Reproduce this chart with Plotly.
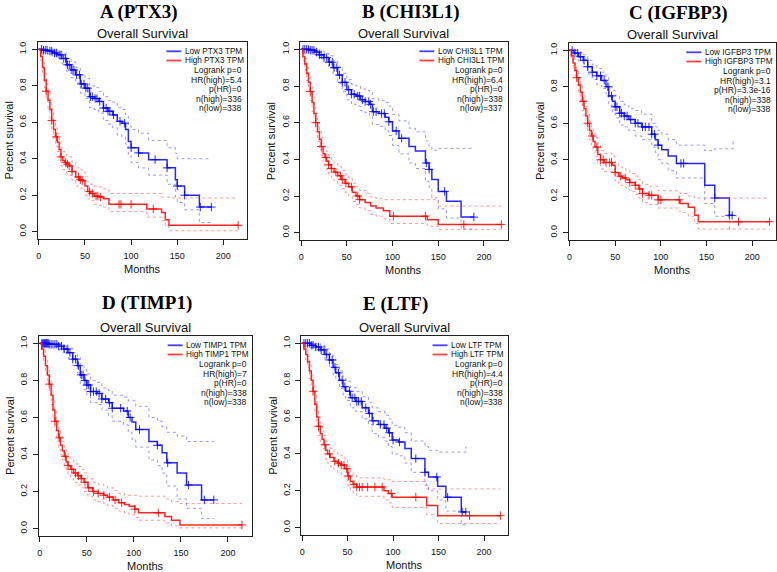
import numpy as np
import plotly.graph_objects as go

# ----------------------------- data -----------------------------
panel_letters = ["A", "B", "C", "D", "E"]
genes = ["PTX3", "CHI3L1", "IGFBP3", "TIMP1", "LTF"]
logrank_p = ["0", "0", "0", "0", "0"]
hr_high = ["5.4", "6.4", "3.1", "7", "4.4"]
p_hr = ["0", "0", "3.3e-16", "0", "0"]
n_high = [336, 338, 338, 338, 338]
n_low = [338, 337, 338, 338, 338]
x_ticks = [0, 50, 100, 150, 200]
y_ticks = [0.0, 0.2, 0.4, 0.6, 0.8, 1.0]

# Panel A (PTX3)
a_low_t = [0, 5, 10, 15, 20, 25, 30, 35, 40, 45, 50, 55, 60, 65, 70, 75, 80, 85, 90, 94, 97, 100, 108, 119, 139, 148, 150, 158, 174, 187]
a_low_s = [1.0, 0.995, 0.99, 0.98, 0.97, 0.95, 0.915, 0.887, 0.86, 0.81, 0.787, 0.74, 0.73, 0.714, 0.678, 0.66, 0.64, 0.605, 0.595, 0.56, 0.495, 0.46, 0.432, 0.395, 0.35, 0.285, 0.25, 0.2, 0.135, 0.135]
a_low_up = [1.0, 1.0, 1.0, 1.0, 0.99, 0.975, 0.95, 0.93, 0.9, 0.86, 0.84, 0.8, 0.79, 0.77, 0.74, 0.72, 0.71, 0.68, 0.67, 0.64, 0.58, 0.56, 0.54, 0.5, 0.46, 0.43, 0.4, 0.4, 0.4, 0.4]
a_low_lo = [1.0, 0.985, 0.975, 0.96, 0.945, 0.92, 0.88, 0.845, 0.815, 0.76, 0.73, 0.68, 0.67, 0.65, 0.61, 0.59, 0.57, 0.53, 0.52, 0.48, 0.42, 0.38, 0.35, 0.31, 0.26, 0.19, 0.16, 0.12, 0.05, 0.05]
a_low_cens = [3, 5, 7, 9, 12, 14, 17, 19, 22, 24, 27, 29, 31, 33, 36, 38, 41, 44, 46, 49, 51, 53, 56, 58, 61, 63, 66, 70, 73, 75, 77, 81, 88, 93, 100, 108, 126, 139, 150, 158, 175, 187]
a_high_t = [0, 2, 4, 6, 8, 10, 12, 14, 16, 18, 20, 22, 24, 26, 28, 30, 33, 36, 40, 44, 47, 50, 53, 56, 60, 65, 70, 76, 117, 133, 137, 141, 216]
a_high_s = [1.0, 0.96, 0.9, 0.83, 0.77, 0.72, 0.67, 0.61, 0.56, 0.52, 0.49, 0.45, 0.41, 0.39, 0.38, 0.37, 0.36, 0.33, 0.3, 0.285, 0.28, 0.25, 0.22, 0.21, 0.195, 0.19, 0.18, 0.15, 0.125, 0.105, 0.065, 0.035, 0.035]
a_high_up = [1.0, 0.98, 0.93, 0.87, 0.81, 0.77, 0.72, 0.66, 0.61, 0.57, 0.54, 0.5, 0.46, 0.44, 0.43, 0.42, 0.41, 0.38, 0.35, 0.34, 0.33, 0.3, 0.27, 0.26, 0.25, 0.245, 0.235, 0.21, 0.21, 0.19, 0.19, 0.185, 0.185]
a_high_lo = [1.0, 0.94, 0.87, 0.79, 0.72, 0.67, 0.62, 0.56, 0.51, 0.47, 0.44, 0.4, 0.36, 0.34, 0.33, 0.32, 0.31, 0.28, 0.25, 0.24, 0.23, 0.2, 0.18, 0.17, 0.15, 0.145, 0.135, 0.11, 0.08, 0.06, 0.03, 0.005, 0.005]
a_high_cens = [8, 14, 19, 24, 29, 31, 33, 36, 43, 45, 47, 55, 58, 62, 64, 67, 87, 89, 100, 124, 216]

# Panel B (CHI3L1)
b_low_t = [0, 10, 15, 20, 25, 30, 35, 40, 45, 50, 55, 60, 65, 70, 75, 78, 85, 92, 96, 100, 107, 118, 125, 136, 140, 143, 150, 159, 175, 189]
b_low_s = [1.0, 0.995, 0.985, 0.97, 0.955, 0.93, 0.9, 0.86, 0.82, 0.78, 0.755, 0.745, 0.725, 0.715, 0.7, 0.66, 0.65, 0.63, 0.605, 0.555, 0.515, 0.47, 0.445, 0.38, 0.345, 0.29, 0.225, 0.172, 0.085, 0.085]
b_low_up = [1.0, 1.0, 1.0, 0.99, 0.98, 0.965, 0.94, 0.905, 0.87, 0.835, 0.81, 0.8, 0.785, 0.775, 0.765, 0.73, 0.72, 0.71, 0.69, 0.645, 0.61, 0.57, 0.55, 0.5, 0.47, 0.45, 0.46, 0.46, 0.46, 0.46]
b_low_lo = [1.0, 0.985, 0.97, 0.95, 0.93, 0.9, 0.86, 0.815, 0.77, 0.725, 0.7, 0.69, 0.665, 0.655, 0.635, 0.59, 0.58, 0.555, 0.53, 0.475, 0.43, 0.38, 0.35, 0.28, 0.245, 0.19, 0.13, 0.08, 0.02, 0.02]
b_low_cens = [2, 4, 6, 8, 10, 12, 14, 17, 20, 22, 25, 28, 31, 34, 36, 39, 42, 45, 48, 52, 55, 58, 62, 64, 67, 70, 74, 76, 79, 82, 88, 91, 96, 104, 110, 137, 140, 157, 189]
b_high_t = [0, 2, 4, 6, 8, 10, 12, 14, 16, 18, 20, 22, 24, 26, 28, 30, 33, 36, 40, 44, 48, 52, 56, 60, 64, 70, 76, 82, 90, 97, 138, 150, 219]
b_high_s = [1.0, 0.96, 0.92, 0.87, 0.82, 0.77, 0.71, 0.65, 0.6, 0.55, 0.51, 0.47, 0.43, 0.41, 0.39, 0.37, 0.35, 0.33, 0.31, 0.29, 0.27, 0.25, 0.22, 0.2, 0.18, 0.165, 0.145, 0.135, 0.12, 0.09, 0.07, 0.045, 0.045]
b_high_up = [1.0, 0.98, 0.95, 0.9, 0.86, 0.81, 0.75, 0.7, 0.65, 0.6, 0.56, 0.52, 0.48, 0.46, 0.44, 0.42, 0.4, 0.38, 0.36, 0.34, 0.32, 0.3, 0.27, 0.25, 0.23, 0.215, 0.195, 0.185, 0.18, 0.18, 0.18, 0.145, 0.145]
b_high_lo = [1.0, 0.94, 0.89, 0.83, 0.78, 0.72, 0.66, 0.6, 0.55, 0.5, 0.46, 0.42, 0.38, 0.36, 0.34, 0.32, 0.3, 0.28, 0.26, 0.24, 0.22, 0.2, 0.17, 0.155, 0.135, 0.12, 0.1, 0.09, 0.075, 0.05, 0.035, 0.018, 0.018]
b_high_cens = [10, 16, 22, 27, 30, 33, 38, 43, 45, 49, 55, 62, 64, 101, 136, 178, 219]

# Panel C (IGFBP3)
c_low_t = [0, 5, 10, 15, 20, 25, 30, 35, 40, 43, 47, 50, 55, 60, 65, 72, 79, 90, 94, 97, 101, 108, 117, 148, 159, 175, 179]
c_low_s = [1.0, 0.985, 0.965, 0.945, 0.91, 0.88, 0.86, 0.835, 0.8, 0.75, 0.72, 0.69, 0.655, 0.64, 0.62, 0.6, 0.58, 0.54, 0.51, 0.48, 0.455, 0.42, 0.38, 0.26, 0.19, 0.095, 0.095]
c_low_up = [1.0, 1.0, 0.99, 0.975, 0.945, 0.92, 0.9, 0.88, 0.85, 0.8, 0.78, 0.75, 0.72, 0.7, 0.68, 0.67, 0.65, 0.6, 0.58, 0.56, 0.54, 0.51, 0.48, 0.45, 0.46, 0.46, 0.5]
c_low_lo = [1.0, 0.97, 0.94, 0.91, 0.87, 0.84, 0.81, 0.79, 0.75, 0.7, 0.66, 0.63, 0.59, 0.58, 0.56, 0.53, 0.51, 0.47, 0.44, 0.4, 0.38, 0.34, 0.3, 0.16, 0.09, 0.02, 0.02]
c_low_cens = [3, 6, 9, 12, 16, 20, 25, 30, 34, 38, 42, 46, 50, 52, 55, 57, 60, 63, 67, 72, 75, 80, 83, 87, 90, 93, 97, 122, 125, 159, 175, 178]
c_high_t = [0, 2, 4, 6, 8, 10, 12, 14, 16, 18, 20, 22, 24, 26, 28, 31, 34, 38, 42, 47, 50, 54, 58, 62, 66, 72, 76, 80, 87, 97, 121, 130, 137, 141, 219]
c_high_s = [1.0, 0.97, 0.93, 0.89, 0.85, 0.81, 0.77, 0.72, 0.68, 0.64, 0.6, 0.56, 0.53, 0.5, 0.47, 0.43, 0.4, 0.385, 0.385, 0.37, 0.33, 0.31, 0.3, 0.29, 0.275, 0.26, 0.24, 0.215, 0.205, 0.18, 0.16, 0.14, 0.095, 0.06, 0.06]
c_high_up = [1.0, 0.99, 0.96, 0.92, 0.89, 0.85, 0.81, 0.77, 0.73, 0.69, 0.65, 0.61, 0.58, 0.55, 0.52, 0.48, 0.45, 0.435, 0.435, 0.42, 0.38, 0.36, 0.35, 0.34, 0.325, 0.31, 0.29, 0.265, 0.255, 0.23, 0.215, 0.2, 0.19, 0.19, 0.19]
c_high_lo = [1.0, 0.95, 0.9, 0.86, 0.81, 0.77, 0.72, 0.67, 0.63, 0.59, 0.55, 0.51, 0.48, 0.45, 0.42, 0.38, 0.35, 0.335, 0.335, 0.32, 0.28, 0.26, 0.25, 0.24, 0.225, 0.21, 0.19, 0.165, 0.155, 0.135, 0.11, 0.09, 0.05, 0.02, 0.02]
c_high_cens = [8, 15, 20, 25, 30, 34, 37, 40, 44, 46, 50, 56, 61, 66, 72, 77, 80, 87, 90, 97, 100, 120, 185, 219]

# Panel D (TIMP1)
d_low_t = [0, 10, 20, 25, 30, 35, 40, 43, 47, 50, 54, 61, 66, 73, 77, 89, 94, 98, 102, 116, 125, 130, 135, 146, 156, 172, 185]
d_low_s = [1.0, 0.995, 0.985, 0.97, 0.95, 0.915, 0.88, 0.83, 0.8, 0.775, 0.74, 0.73, 0.7, 0.68, 0.65, 0.635, 0.6, 0.575, 0.535, 0.47, 0.45, 0.41, 0.355, 0.3, 0.235, 0.155, 0.155]
d_low_up = [1.0, 1.0, 1.0, 0.99, 0.975, 0.95, 0.925, 0.88, 0.86, 0.835, 0.8, 0.79, 0.76, 0.745, 0.72, 0.71, 0.69, 0.69, 0.66, 0.6, 0.58, 0.55, 0.52, 0.5, 0.47, 0.47, 0.47]
d_low_lo = [1.0, 0.985, 0.965, 0.945, 0.92, 0.88, 0.84, 0.78, 0.75, 0.72, 0.68, 0.67, 0.64, 0.61, 0.58, 0.56, 0.52, 0.48, 0.44, 0.37, 0.34, 0.3, 0.23, 0.16, 0.11, 0.054, 0.054]
d_low_cens = [2, 3, 4, 5, 6, 7, 8, 9, 10, 12, 14, 16, 18, 20, 23, 26, 29, 32, 35, 38, 41, 44, 46, 48, 50, 52, 54, 57, 60, 63, 66, 70, 74, 77, 86, 93, 96, 106, 125, 136, 158, 175, 185]
d_high_t = [0, 2, 4, 6, 8, 10, 12, 14, 16, 18, 20, 22, 24, 26, 28, 30, 33, 36, 40, 44, 47, 51, 56, 62, 68, 72, 78, 84, 90, 95, 101, 105, 133, 140, 149, 215]
d_high_s = [1.0, 0.97, 0.93, 0.88, 0.83, 0.78, 0.72, 0.64, 0.58, 0.53, 0.49, 0.45, 0.42, 0.39, 0.36, 0.34, 0.32, 0.3, 0.285, 0.27, 0.25, 0.22, 0.2, 0.19, 0.18, 0.17, 0.155, 0.14, 0.13, 0.12, 0.105, 0.085, 0.065, 0.045, 0.02, 0.02]
d_high_up = [1.0, 0.99, 0.96, 0.92, 0.87, 0.82, 0.77, 0.69, 0.63, 0.58, 0.54, 0.5, 0.47, 0.44, 0.41, 0.39, 0.37, 0.35, 0.335, 0.32, 0.3, 0.27, 0.25, 0.24, 0.23, 0.22, 0.205, 0.19, 0.18, 0.18, 0.18, 0.175, 0.16, 0.145, 0.135, 0.135]
d_high_lo = [1.0, 0.95, 0.9, 0.84, 0.79, 0.74, 0.67, 0.59, 0.53, 0.48, 0.44, 0.4, 0.37, 0.34, 0.31, 0.29, 0.27, 0.25, 0.235, 0.22, 0.2, 0.175, 0.155, 0.145, 0.135, 0.125, 0.11, 0.095, 0.085, 0.075, 0.06, 0.045, 0.03, 0.015, 0.004, 0.004]
d_high_cens = [10, 16, 21, 27, 30, 34, 38, 41, 44, 48, 52, 57, 62, 68, 74, 80, 87, 101, 126, 215]

# Panel E (LTF)
e_low_t = [0, 10, 15, 20, 25, 30, 34, 37, 41, 45, 48, 53, 59, 66, 73, 77, 84, 91, 95, 99, 106, 113, 120, 135, 139, 149, 158, 175, 180]
e_low_s = [1.0, 0.99, 0.98, 0.965, 0.94, 0.91, 0.87, 0.84, 0.8, 0.765, 0.74, 0.705, 0.685, 0.65, 0.62, 0.58, 0.56, 0.54, 0.515, 0.475, 0.465, 0.43, 0.375, 0.3, 0.275, 0.225, 0.165, 0.085, 0.085]
e_low_up = [1.0, 1.0, 1.0, 0.99, 0.97, 0.945, 0.91, 0.885, 0.85, 0.815, 0.795, 0.76, 0.74, 0.71, 0.68, 0.65, 0.63, 0.61, 0.59, 0.555, 0.545, 0.515, 0.47, 0.44, 0.42, 0.41, 0.41, 0.41, 0.44]
e_low_lo = [1.0, 0.98, 0.96, 0.94, 0.91, 0.875, 0.83, 0.8, 0.755, 0.72, 0.69, 0.65, 0.63, 0.59, 0.56, 0.51, 0.49, 0.47, 0.44, 0.4, 0.39, 0.35, 0.3, 0.23, 0.2, 0.15, 0.09, 0.015, 0.015]
e_low_cens = [2, 4, 6, 8, 10, 12, 15, 18, 21, 24, 27, 30, 33, 36, 40, 44, 47, 52, 55, 58, 60, 62, 65, 70, 74, 78, 86, 90, 93, 96, 100, 107, 125, 135, 148, 160, 176, 180]
e_high_t = [0, 2, 4, 6, 8, 10, 12, 14, 16, 18, 20, 22, 24, 26, 28, 31, 35, 39, 43, 47, 50, 53, 56, 60, 90, 95, 99, 137, 149, 218]
e_high_s = [1.0, 0.97, 0.94, 0.9, 0.85, 0.8, 0.74, 0.67, 0.6, 0.55, 0.51, 0.48, 0.45, 0.42, 0.4, 0.38, 0.36, 0.35, 0.34, 0.32, 0.28, 0.25, 0.235, 0.22, 0.2, 0.185, 0.165, 0.12, 0.065, 0.065]
e_high_up = [1.0, 0.99, 0.97, 0.93, 0.89, 0.84, 0.78, 0.72, 0.65, 0.6, 0.56, 0.53, 0.5, 0.47, 0.45, 0.43, 0.41, 0.4, 0.39, 0.37, 0.33, 0.3, 0.285, 0.27, 0.26, 0.26, 0.25, 0.21, 0.21, 0.21]
e_high_lo = [1.0, 0.95, 0.91, 0.87, 0.81, 0.76, 0.7, 0.62, 0.55, 0.5, 0.46, 0.43, 0.4, 0.37, 0.35, 0.33, 0.31, 0.3, 0.29, 0.27, 0.23, 0.2, 0.185, 0.17, 0.15, 0.135, 0.11, 0.07, 0.022, 0.022]
e_high_cens = [12, 18, 25, 30, 36, 40, 43, 46, 49, 51, 57, 60, 63, 66, 72, 80, 88, 98, 125, 184, 218]

low_curves = [
    (a_low_t, a_low_s, a_low_up, a_low_lo, a_low_cens),
    (b_low_t, b_low_s, b_low_up, b_low_lo, b_low_cens),
    (c_low_t, c_low_s, c_low_up, c_low_lo, c_low_cens),
    (d_low_t, d_low_s, d_low_up, d_low_lo, d_low_cens),
    (e_low_t, e_low_s, e_low_up, e_low_lo, e_low_cens),
]
high_curves = [
    (a_high_t, a_high_s, a_high_up, a_high_lo, a_high_cens),
    (b_high_t, b_high_s, b_high_up, b_high_lo, b_high_cens),
    (c_high_t, c_high_s, c_high_up, c_high_lo, c_high_cens),
    (d_high_t, d_high_s, d_high_up, d_high_lo, d_high_cens),
    (e_high_t, e_high_s, e_high_up, e_high_lo, e_high_cens),
]

# ----------------------------- style -----------------------------
W, H = 777, 572
SANS = "Liberation Sans, Arial, sans-serif"
SERIF = "Liberation Serif, Times New Roman, serif"
BLUE, RED = "rgba(0,0,255,0.85)", "rgba(255,0,0,0.85)"
BLUE_CI, RED_CI = "rgba(70,70,255,0.55)", "rgba(255,70,70,0.55)"
BLUE_LEG, RED_LEG = "rgba(0,0,255,0.75)", "rgba(255,0,0,0.75)"
TXT = "#111111"
# plot boxes in pixels: left, right, top, bottom
boxes = [(36, 246, 42, 239), (299, 507, 42, 240), (568, 776, 43, 240),
         (37, 251, 336, 536), (300, 507, 336, 535)]
title_pos = [(137, 12), (410, 12), (678, 12.5), (145.5, 303), (395, 304)]

CW = {' ': 278, '(': 333, ')': 333, '=': 584, '.': 278, '-': 333}
CW.update({c: 556 for c in "0123456789"})
CW.update(dict(A=667, B=667, C=722, D=722, E=667, F=611, G=778, H=722, I=278, J=500, K=667,
               L=556, M=833, N=722, O=778, P=667, Q=778, R=722, S=667, T=611, U=722, V=667,
               W=944, X=667, Y=667, Z=611))
CW.update(dict(a=556, b=556, c=500, d=556, e=556, f=278, g=556, h=556, i=222, j=222, k=500,
               l=222, m=833, n=556, o=556, p=556, q=556, r=333, s=500, t=278, u=556, v=500,
               w=722, x=500, y=500, z=500))


def text_w(s, size):
    return sum(CW.get(ch, 556) for ch in s) * size / 1000.0


def step_at(t, s, q):
    t = np.asarray(t, float)
    s = np.asarray(s, float)
    idx = np.searchsorted(t, np.asarray(q, float), side="right") - 1
    return s[np.clip(idx, 0, len(s) - 1)]


fig = go.Figure()
layout = dict(width=W, height=H, margin=dict(l=0, r=0, t=0, b=0),
              paper_bgcolor="white", plot_bgcolor="white", showlegend=False)
annotations, shapes = [], []
LAB_FS = 8.2
STAT_FS = 8.5
LAB_OFF = [9.3, 18.5]
STAT_OFF = [28.3, 37.7, 47.1, 56.5, 65.9]

for i in range(5):
    sfx = "" if i == 0 else str(i + 1)
    xa, ya = "x" + sfx, "y" + sfx
    l, r, t, b = boxes[i]
    bw, bh = r - l, b - t
    axis_common = dict(showgrid=False, zeroline=False, showline=True, mirror=True,
                       linecolor="#222", linewidth=1, ticks="outside", ticklen=5,
                       tickcolor="#222", tickfont=dict(family=SANS, size=9, color=TXT))
    layout["xaxis" + sfx] = dict(axis_common, domain=[l / W, r / W], range=[-1, 226],
                                 tickvals=x_ticks, anchor=ya, ticklabelstandoff=3)
    layout["yaxis" + sfx] = dict(axis_common, domain=[1 - b / H, 1 - t / H], range=[-0.04, 1.04],
                                 tickvals=y_ticks, tickformat=".1f", tickangle=-90, anchor=xa,
                                 ticklabelstandoff=2)

    for (tt, ss, up, lo, cens), col, cicol in ((low_curves[i], BLUE, BLUE_CI),
                                               (high_curves[i], RED, RED_CI)):
        assert len(tt) == len(ss) == len(up) == len(lo)
        for ci in (up, lo):
            fig.add_trace(go.Scatter(x=tt, y=ci, mode="lines", xaxis=xa, yaxis=ya,
                                     line=dict(color=cicol, width=1, dash="dot", shape="hv"),
                                     hoverinfo="skip"))
        fig.add_trace(go.Scatter(x=tt, y=ss, mode="lines", xaxis=xa, yaxis=ya,
                                 line=dict(color=col, width=1.5, shape="hv"), hoverinfo="skip"))
        fig.add_trace(go.Scatter(x=cens, y=step_at(tt, ss, cens), mode="markers", xaxis=xa, yaxis=ya,
                                 marker=dict(symbol="cross-thin", size=6, line=dict(color=col, width=1)),
                                 hoverinfo="skip"))

    # panel title
    annotations.append(dict(text="<b>%s (%s)</b>" % (panel_letters[i], genes[i]), xref="paper", yref="paper",
                            x=title_pos[i][0] / W, y=1 - title_pos[i][1] / H, xanchor="center",
                            yanchor="middle", showarrow=False,
                            font=dict(family=SERIF, size=19, color="black")))
    annotations.append(dict(text="Overall Survival", xref=xa + " domain", yref=ya + " domain",
                            x=0.5, y=1, yshift=9, xanchor="center", yanchor="middle", showarrow=False,
                            font=dict(family=SANS, size=13, color=TXT)))
    annotations.append(dict(text="Months", xref=xa + " domain", yref=ya + " domain",
                            x=0.5, y=0, yshift=-30, xanchor="center", yanchor="middle", showarrow=False,
                            font=dict(family=SANS, size=11, color=TXT)))
    annotations.append(dict(text="Percent survival", xref=xa + " domain", yref=ya + " domain",
                            x=0, y=0.5, xshift=-29, xanchor="center", yanchor="middle", textangle=-90,
                            showarrow=False, font=dict(family=SANS, size=11, color=TXT)))

    # legend block
    labels = ["Low %s TPM" % genes[i], "High %s TPM" % genes[i]]
    stats = ["Logrank p=%s" % logrank_p[i], "HR(high)=%s" % hr_high[i], "p(HR)=%s" % p_hr[i],
             "n(high)=%d" % n_high[i], "n(low)=%d" % n_low[i]]
    right_gap = 4
    wlab = max(text_w(s, LAB_FS) for s in labels)
    for k, lab in enumerate(labels):
        off = LAB_OFF[k]
        annotations.append(dict(text=lab, xref=xa + " domain", yref=ya + " domain", x=1, y=1,
                                xshift=-(right_gap + wlab), yshift=-off, xanchor="left", yanchor="middle",
                                showarrow=False, borderpad=0,
                                font=dict(family=SANS, size=LAB_FS, color=TXT)))
        x1 = 1 - (right_gap + wlab + 3) / bw
        x0 = 1 - (right_gap + wlab + 3 + 15) / bw
        yy = 1 - off / bh
        shapes.append(dict(type="line", xref=xa + " domain", yref=ya + " domain", x0=x0, x1=x1,
                           y0=yy, y1=yy, line=dict(color=BLUE_LEG if k == 0 else RED_LEG, width=1.8)))
    for k, st in enumerate(stats):
        annotations.append(dict(text=st, xref=xa + " domain", yref=ya + " domain", x=1, y=1,
                                xshift=-right_gap, yshift=-STAT_OFF[k], xanchor="right", yanchor="middle",
                                showarrow=False, borderpad=0,
                                font=dict(family=SANS, size=STAT_FS, color=TXT)))

layout["annotations"] = annotations
layout["shapes"] = shapes
fig.update_layout(**layout)
fig.write_html("out.html", config={"displayModeBar": False, "staticPlot": True},
               post_script="document.body.style.margin='0px';document.body.style.overflow='hidden';")
